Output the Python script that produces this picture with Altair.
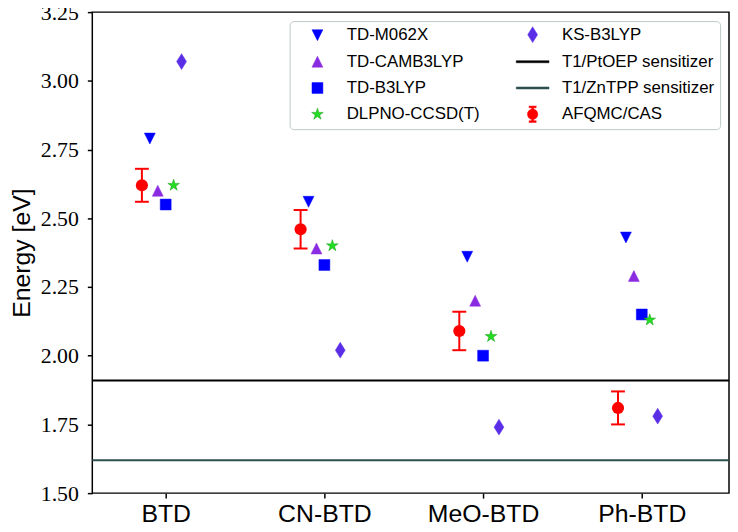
import altair as alt
import pandas as pd

# ---------------- data ----------------
molecules = ["BTD", "CN-BTD", "MeO-BTD", "Ph-BTD"]
td_m062x = [2.79, 2.56, 2.36, 2.43]
td_camb3lyp = [2.60, 2.39, 2.20, 2.29]
td_b3lyp = [2.55, 2.33, 2.00, 2.15]
dlpno_ccsdt = [2.62, 2.40, 2.07, 2.13]
ks_b3lyp = [3.07, 2.02, 1.74, 1.78]
afqmc_cas = [2.62, 2.46, 2.09, 1.81]
afqmc_err = [0.06, 0.07, 0.07, 0.06]
sensitizer_names = ["T1/PtOEP sensitizer", "T1/ZnTPP sensitizer"]
sensitizer_t1 = [1.91, 1.62]
y_ticks = [1.50, 1.75, 2.00, 2.25, 2.50, 2.75, 3.00, 3.25]

series = {
    "TD-M062X": td_m062x,
    "TD-CAMB3LYP": td_camb3lyp,
    "TD-B3LYP": td_b3lyp,
    "DLPNO-CCSD(T)": dlpno_ccsdt,
    "KS-B3LYP": ks_b3lyp,
}

points_df = pd.DataFrame(
    [{"method": m, "molecule": mol, "energy": v}
     for m, vals in series.items() for mol, v in zip(molecules, vals)]
)
afqmc_df = pd.DataFrame({
    "method": "AFQMC/CAS",
    "molecule": molecules,
    "energy": afqmc_cas,
    "lo": [v - e for v, e in zip(afqmc_cas, afqmc_err)],
    "hi": [v + e for v, e in zip(afqmc_cas, afqmc_err)],
})
sens_df = pd.DataFrame({"name": sensitizer_names, "t1": sensitizer_t1})

# ---------------- styles ----------------
dodge_order = ["AFQMC/CAS", "TD-M062X", "TD-CAMB3LYP", "TD-B3LYP", "DLPNO-CCSD(T)", "KS-B3LYP"]
legend_order = ["TD-M062X", "TD-CAMB3LYP", "TD-B3LYP", "DLPNO-CCSD(T)",
                "KS-B3LYP", "T1/PtOEP sensitizer", "T1/ZnTPP sensitizer", "AFQMC/CAS"]

tri_down = "M-1,-1L1,-1L0,1Z"
tri_up = "M0,-1L1,1L-1,1Z"
square = "M-1,-1L1,-1L1,1L-1,1Z"
thin_diamond = "M0,-1.45L0.9,0L0,1.45L-0.9,0Z"
hbar = "M-3,-0.19L3,-0.19L3,0.19L-3,0.19Z"
star = ("M0,-1.12L0.25,-0.344L1.065,-0.346L0.405,0.131L0.658,0.906L0,0.426"
        "L-0.658,0.906L-0.405,0.131L-1.065,-0.346L-0.25,-0.344Z")
errmark = ("M-0.65,-1.5L0.65,-1.5L0.65,-1.18L-0.65,-1.18Z"
           "M-0.17,-1.3L0.17,-1.3L0.17,1.3L-0.17,1.3Z"
           "M-0.65,1.18L0.65,1.18L0.65,1.5L-0.65,1.5Z"
           "M0.95,0A0.95,0.95,0,1,1,-0.95,0A0.95,0.95,0,1,1,0.95,0Z")

shape_range = [tri_down, tri_up, square, star, thin_diamond, hbar, hbar, errmark]
fill_range = ["#0000ff", "#8a2be2", "#0000ff", "#22dd22", "#5a2ee6", "#000000", "#2f4f4f", "#ff0000"]
stroke_range = ["#0000ff", "#8a2be2", "#0000ff", "#119911", "#5a2ee6", "#000000", "#2f4f4f", "#ff0000"]
width_range = [0.5, 0.5, 0.5, 1.0, 0.5, 0.3, 0.3, 0.3]

x_scale = alt.Scale(type="point", domain=molecules, padding=0.506, align=0.457)
xoff_scale = alt.Scale(type="point", domain=dodge_order, range=[-24, 16], padding=0)
y_scale = alt.Scale(domain=[1.5, 3.25], nice=False, zero=False)

x_axis = alt.Axis(title=None, labelAngle=0, labelFont="Liberation Sans", labelFontSize=25,
                  labelPadding=4, ticks=True)
y_axis = alt.Axis(values=y_ticks, format=".2f", labelFont="Liberation Serif", labelFontSize=22,
                  labelPadding=9, title="Energy [eV]", titleFont="Liberation Sans",
                  titleFontSize=25, titleFontWeight="normal", titlePadding=6)

X = alt.X("molecule:N", scale=x_scale, axis=x_axis, sort=molecules)
XO = alt.XOffset("method:N", scale=xoff_scale)

rules = alt.Chart(sens_df).mark_rule(strokeWidth=2).encode(
    y=alt.Y("t1:Q", scale=y_scale, axis=y_axis),
    color=alt.Color("name:N", scale=alt.Scale(domain=sensitizer_names, range=["#000000", "#2f4f4f"]),
                    legend=None),
)

pts = alt.Chart(points_df).mark_point(filled=True, size=121, opacity=1).encode(
    x=X,
    xOffset=XO,
    y=alt.Y("energy:Q", scale=y_scale, axis=y_axis),
    shape=alt.Shape("method:N", scale=alt.Scale(domain=legend_order, range=shape_range), title=None),
    fill=alt.Fill("method:N", scale=alt.Scale(domain=legend_order, range=fill_range), title=None),
    stroke=alt.Stroke("method:N", scale=alt.Scale(domain=legend_order, range=stroke_range), title=None),
    strokeWidth=alt.StrokeWidth("method:N", scale=alt.Scale(domain=legend_order, range=width_range),
                                title=None),
)

err = alt.Chart(afqmc_df).mark_rule(color="#ff0000", strokeWidth=2).encode(
    x=X, xOffset=XO,
    y=alt.Y("lo:Q", scale=y_scale, axis=y_axis),
    y2="hi:Q",
)

caps = alt.Chart(afqmc_df).transform_fold(["lo", "hi"], as_=["end", "val"]).mark_tick(
    color="#ff0000", thickness=2, size=14, orient="horizontal", opacity=1
).encode(
    x=X, xOffset=XO,
    y=alt.Y("val:Q", scale=y_scale, axis=y_axis),
)

dots = alt.Chart(afqmc_df).mark_point(filled=True, shape="circle", size=150, color="#ff0000",
                                      opacity=1).encode(
    x=X, xOffset=XO,
    y=alt.Y("energy:Q", scale=y_scale, axis=y_axis),
)

chart = alt.layer(rules, pts, err, caps, dots).properties(
    width=642, height=485,
    autosize=alt.AutoSizeParams(type="none"),
    padding={"left": 85, "top": 2, "right": 1, "bottom": 33},
).configure_view(
    stroke="black", strokeWidth=1.5
).configure_axis(
    grid=False, domain=False, tickColor="black", tickWidth=1.5, tickSize=5,
    labelColor="black", titleColor="black"
).configure_legend(
    orient="none", legendX=199, legendY=9, columns=2, symbolSize=121,
    labelFont="Liberation Sans", labelFontSize=17, labelColor="black", labelLimit=400,
    symbolOffset=14.5, labelOffset=21, rowPadding=8.5, columnPadding=30, padding=5,
    strokeColor="#c0c8c8", fillColor="white", cornerRadius=4, symbolOpacity=1,
)

chart.save("out.html", embed_options={"renderer": "svg", "actions": False})
